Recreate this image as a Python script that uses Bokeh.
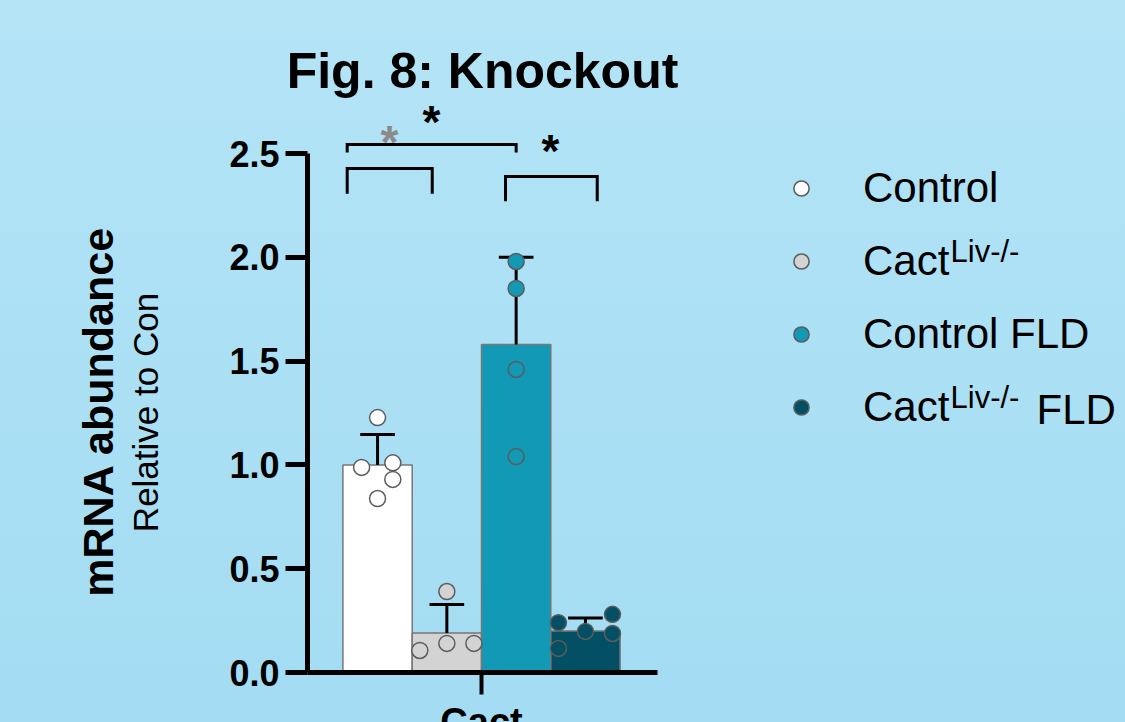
import numpy as np
from bokeh.plotting import figure
from bokeh.models import (ColumnDataSource, Range1d, FixedTicker, Label, Legend,
                          LegendItem, NumeralTickFormatter)
from bokeh.embed import file_html
from bokeh.resources import INLINE

# ---- data -------------------------------------------------------------
groups = ["Control", "CactLiv-/-", "Control FLD", "CactLiv-/- FLD"]
means = [1.00, 0.19, 1.58, 0.20]
errors = [0.146, 0.137, 0.42, 0.062]
pts_control = [1.228, 0.988, 1.010, 0.930, 0.838]
pts_cact = [0.390, 0.106, 0.140, 0.140]
pts_control_fld = [1.98, 1.85, 1.46, 1.04]
pts_cact_fld = [0.240, 0.198, 0.280, 0.188, 0.116]
y_ticks = [0.0, 0.5, 1.0, 1.5, 2.0, 2.5]
x_category = "Cact"

# ---- styling / layout --------------------------------------------------
FONT = "Liberation Sans"
fills = ["#ffffff", "#d3d3d3", "#1199b5", "#034f63"]
# horizontal scatter of the individual points inside each bar (bar widths)
jitter = [[0.0, -0.23, 0.22, 0.22, 0.0],
          [0.0, -0.39, 0.0, 0.39],
          [0.0, 0.0, 0.0, 0.0],
          [-0.39, 0.0, 0.39, 0.39, -0.39]]

W, H = 1125, 722
AX_LEFT, AX_RIGHT, AX_BOTTOM = 307, 657, 672   # axis corner / ends, canvas px
X0_PX = 481          # pixel of the category centre
PX_X, PX_Y = 69.3, 207.6

def sx(px):   # canvas x -> screen units
    return px

def sy(py):   # canvas y -> screen units (measured upward)
    return H - py

def dx(px):   # canvas x -> data x
    return (px - X0_PX) / PX_X

def dy(py):   # canvas y -> data y
    return (AX_BOTTOM - py) / PX_Y

# the frame covers the whole canvas; the axes sit at fixed locations in it
p = figure(width=W, height=H, x_range=Range1d(dx(0), dx(W)),
           y_range=Range1d(dy(H), dy(0)), output_backend="svg",
           toolbar_location=None, title_location=None,
           min_border=0, min_border_left=0, min_border_right=0,
           min_border_top=0, min_border_bottom=0)
p.border_fill_color = None
p.background_fill_color = None
p.outline_line_color = None
p.grid.visible = False
p.styles = {"background": "linear-gradient(to bottom, #b4e4f6 0%, #a3dcf3 100%)"}

# y axis
ya = p.yaxis[0]
ya.fixed_location = dx(AX_LEFT)
ya.ticker = FixedTicker(ticks=y_ticks)
ya.formatter = NumeralTickFormatter(format="0.0")
ya.bounds = (0, 2.5)
ya.axis_line_width = 5
ya.major_tick_line_width = 5
ya.major_tick_out = 22
ya.major_tick_in = 0
ya.minor_tick_line_color = None
ya.major_label_standoff = 6
ya.major_label_text_font = FONT
ya.major_label_text_font_size = "36px"
ya.major_label_text_font_style = "bold"
ya.major_label_text_color = "black"

# x axis: a single category tick at 0
xa = p.xaxis[0]
xa.fixed_location = 0
xa.ticker = FixedTicker(ticks=[0])
xa.bounds = (dx(AX_LEFT), dx(AX_RIGHT))
xa.axis_line_width = 5
xa.major_tick_line_width = 4
xa.major_tick_out = 22
xa.major_tick_in = 0
xa.minor_tick_line_color = None
xa.major_label_overrides = {0: x_category}
xa.major_label_standoff = 6
xa.major_label_text_font = FONT
xa.major_label_text_font_size = "38px"
xa.major_label_text_font_style = "bold"
xa.major_label_text_color = "black"

# ---- bars, error bars, points ----------------------------------------
centers = np.arange(len(groups)) - 1.5
means_a = np.array(means)
tops = means_a + np.array(errors)

bars = ColumnDataSource(dict(x=centers, top=means_a, fill=fills))
p.vbar(x="x", top="top", bottom=0, width=1.0, fill_color="fill",
       line_color="#777777", line_width=1.5, source=bars)

p.segment(x0=centers, y0=means_a, x1=centers, y1=tops,
          line_color="black", line_width=3)
p.segment(x0=centers - 0.25, y0=tops, x1=centers + 0.25, y1=tops,
          line_color="black", line_width=3)

all_pts = [pts_control, pts_cact, pts_control_fld, pts_cact_fld]
px, py, pc, first_idx = [], [], [], []
for g, vals in enumerate(all_pts):
    first_idx.append(len(px))
    for v, j in zip(vals, jitter[g]):
        px.append(centers[g] + j)
        py.append(v)
        pc.append(fills[g])
pts = p.scatter(x="x", y="y", size=16, fill_color="c", line_color="#5c5c5c",
                line_width=1.5, source=ColumnDataSource(dict(x=px, y=py, c=pc)))

# ---- significance brackets -------------------------------------------
br_x0 = [-1.938, -1.938, 0.346]
br_x1 = [-0.711, 0.500, 1.670]
br_top = [2.428, 2.543, 2.389]
br_leg = [2.306, 2.505, 2.270]
p.multi_line(xs=[[a, a, b, b] for a, b in zip(br_x0, br_x1)],
             ys=[[l, t, t, l] for t, l in zip(br_top, br_leg)],
             line_color="black", line_width=3, line_join="miter")

stars = [(-1.328, 2.555, "#8a8a8a"), (-0.722, 2.650, "black"), (0.996, 2.511, "black")]
for x, y, c in stars:
    p.add_layout(Label(x=x, y=y, text="*", text_align="center",
                       text_baseline="middle", text_font=FONT,
                       text_font_size="46px", text_font_style="bold",
                       text_color=c))

# ---- title and y axis titles -----------------------------------------
p.add_layout(Label(x=sx(482), y=sy(70), x_units="screen", y_units="screen",
                   text="Fig. 8: Knockout", text_align="center",
                   text_baseline="middle", text_font=FONT, text_font_size="50px",
                   text_font_style="bold", text_color="black"))
p.add_layout(Label(x=sx(97), y=sy(411), x_units="screen", y_units="screen",
                   text="mRNA abundance", angle=np.pi / 2, text_align="center",
                   text_baseline="middle", text_font=FONT, text_font_size="43px",
                   text_font_style="bold", text_color="black"))
p.add_layout(Label(x=sx(145), y=sy(412), x_units="screen", y_units="screen",
                   text="Relative to Con", angle=np.pi / 2, text_align="center",
                   text_baseline="middle", text_font=FONT, text_font_size="35px",
                   text_color="black"))

# ---- legend ------------------------------------------------------------
base_labels = ["Control", "Cact", "Control FLD", "Cact"]
items = [LegendItem(label=lab, renderers=[pts], index=first_idx[i])
         for i, lab in enumerate(base_labels)]
leg_h = 4 * 52 + 3 * 21
legend = Legend(items=items, location=(sx(782), sy(162) - leg_h),
                glyph_width=38, glyph_height=52, spacing=21, padding=0,
                margin=0, label_standoff=43, border_line_alpha=0,
                background_fill_alpha=0, label_text_font=FONT,
                label_text_font_size="42px", label_text_color="black")
p.add_layout(legend)

for mid_y in (250.5, 396.5):
    p.add_layout(Label(x=sx(950), y=sy(mid_y), x_units="screen",
                       y_units="screen", text="Liv-/-", text_baseline="middle",
                       text_font=FONT, text_font_size="31px", text_color="black"))
p.add_layout(Label(x=sx(1036), y=sy(408.5), x_units="screen", y_units="screen",
                   text="FLD", text_baseline="middle", text_font=FONT,
                   text_font_size="42px", text_color="black"))

html = file_html(p, INLINE, title="Fig. 8: Knockout")
open("out.html", "w").write(html)
